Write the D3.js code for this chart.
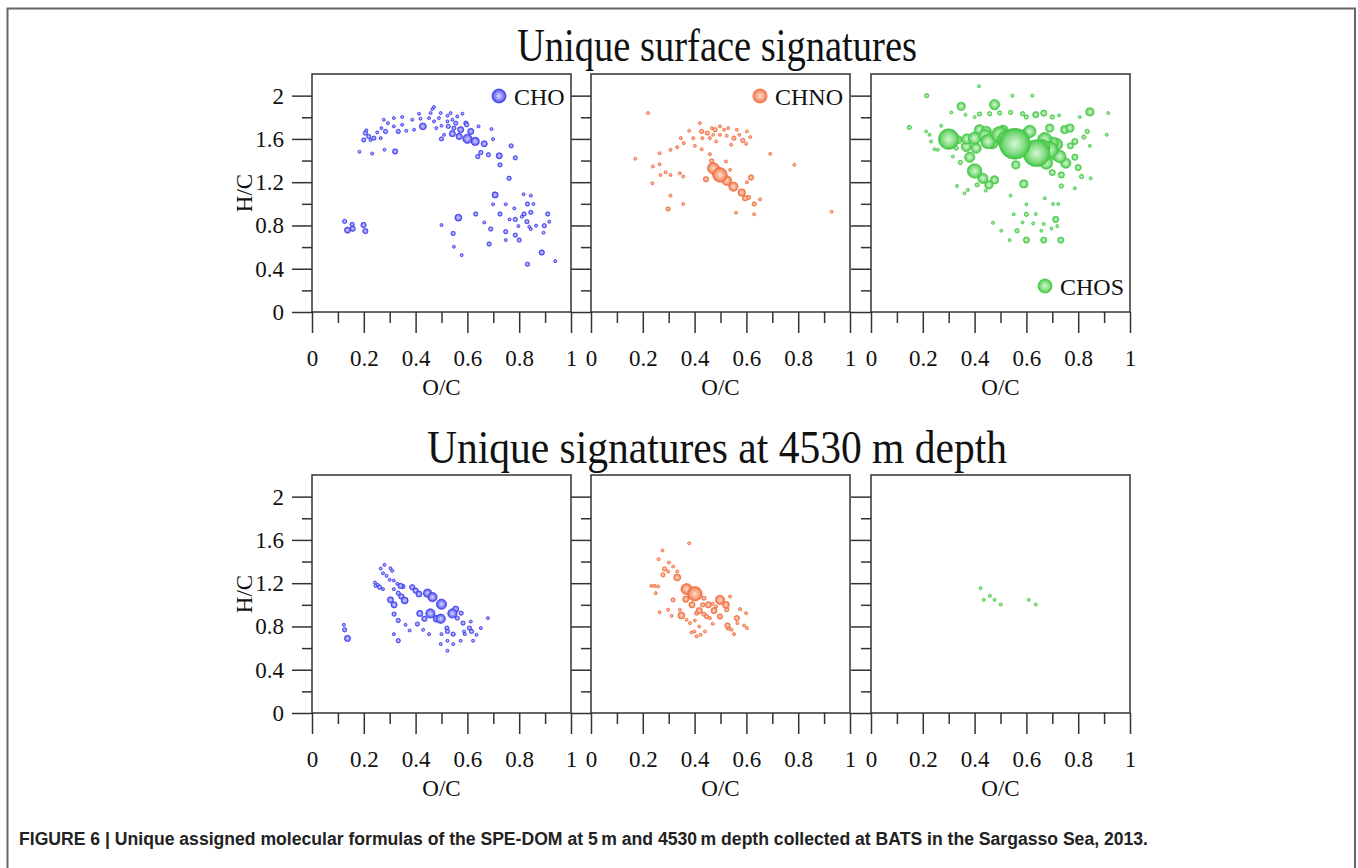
<!DOCTYPE html>
<html>
<head>
<meta charset="utf-8">
<script src="https://cdn.jsdelivr.net/npm/d3@7"></script>
<style>
  body { margin: 0; background: #fff; }
  svg { display: block; }
</style>
</head>
<body>
<div id="figure"></div>
<script>
// O/C, H/C, relative abundance (bubble size)
var choSurface = [
  [0.126,0.838,2],[0.137,0.757,4],[0.157,0.770,3],[0.155,0.81,2],[0.199,0.804,3],[0.206,0.748,3],
  [0.183,1.481,1],[0.232,1.465,1],[0.206,1.654,2],[0.21,1.68,1],[0.2,1.59,2],[0.219,1.623,2],[0.226,1.59,1],
  [0.239,1.607,2],[0.252,1.66,1],[0.265,1.607,1],[0.268,1.70,1],[0.277,1.777,1],[0.284,1.669,2],[0.293,1.746,1],
  [0.28,1.5,1],[0.321,1.484,3],[0.316,1.793,1],[0.316,1.716,1],[0.333,1.669,2],[0.348,1.802,1],[0.348,1.731,1],
  [0.364,1.675,1],[0.387,1.777,1],[0.394,1.685,1],[0.413,1.833,1],[0.419,1.787,1],[0.428,1.716,5],[0.452,1.793,1],
  [0.458,1.839,1],[0.465,1.876,1],[0.471,1.895,1],[0.471,1.762,1],[0.48,1.70,1],[0.49,1.793,1],[0.497,1.839,1],
  [0.5,1.722,1],[0.5,1.6,2],[0.51,1.638,1],[0.523,1.814,1],[0.523,1.762,1],[0.526,1.716,2],[0.535,1.839,1],
  [0.542,1.777,1],[0.542,1.648,4],[0.548,1.70,2],[0.555,1.746,2],[0.561,1.808,1],[0.568,1.623,4],[0.574,1.685,4],
  [0.581,1.833,1],[0.594,1.746,2],[0.597,1.731,2],[0.6,1.601,9],[0.613,1.669,4],[0.63,1.577,7],[0.643,1.716,1],
  [0.64,1.437,2],[0.652,1.474,2],[0.665,1.555,4],[0.681,1.453,2],[0.693,1.691,1],[0.699,1.598,1],[0.723,1.444,4],
  [0.726,1.36,2],[0.761,1.236,2],[0.769,1.536,2],[0.785,1.425,2],
  [0.707,1.082,4],[0.699,0.995,1],[0.726,0.906,2],[0.748,0.995,1],[0.781,0.958,1],[0.817,1.088,1],[0.845,1.076,1],
  [0.832,0.998,2],[0.855,0.998,1],[0.819,0.906,2],[0.845,0.921,2],[0.91,0.906,2],[0.632,0.906,2],[0.665,0.828,1],
  [0.69,0.767,2],[0.684,0.628,2],[0.748,0.742,2],[0.748,0.665,1],[0.763,0.856,1],[0.785,0.856,2],[0.797,0.794,1],
  [0.785,0.711,2],[0.8,0.665,2],[0.81,0.881,1],[0.83,0.835,2],[0.839,0.788,1],[0.845,0.767,1],[0.865,0.798,1],
  [0.897,0.798,2],[0.894,0.733,1],[0.916,0.835,1],[0.832,0.442,2],[0.887,0.55,3],[0.939,0.47,1],[0.565,0.872,5],
  [0.545,0.726,2],[0.548,0.603,1],[0.578,0.526,1],[0.5,0.804,1]
]

var chnoSurface = [
  [0.22,1.839,1],[0.171,1.416,1],[0.239,1.345,1],[0.237,1.19,1],[0.265,1.468,1],[0.265,1.366,1],[0.268,1.267,1],
  [0.288,1.292,1],[0.307,1.499,1],[0.307,1.267,1],[0.307,1.076,1],[0.298,0.952,2],[0.333,1.524,1],[0.343,1.283,1],
  [0.356,1.252,1],[0.356,0.998,1],[0.347,1.607,1],[0.358,1.561,1],[0.379,1.675,1],[0.395,1.607,1],[0.401,1.536,1],
  [0.42,1.746,1],[0.427,1.669,2],[0.43,1.607,1],[0.427,1.505,1],[0.449,1.654,2],[0.459,1.607,1],[0.466,1.70,1],
  [0.479,1.685,2],[0.472,1.638,1],[0.483,1.576,1],[0.498,1.716,1],[0.498,1.638,1],[0.514,1.685,1],[0.524,1.629,1],
  [0.53,1.70,1],[0.552,1.607,2],[0.563,1.685,1],[0.573,1.638,1],[0.586,1.586,2],[0.599,1.555,1],[0.602,1.669,1],
  [0.615,1.617,1],[0.541,1.546,1],[0.459,1.459,1],[0.466,1.397,2],[0.521,1.391,1],[0.444,1.227,3],[0.472,1.329,14],
  [0.485,1.30,12],[0.498,1.267,22],[0.524,1.215,10],[0.55,1.159,9],[0.582,1.104,6],[0.595,1.051,3],[0.608,1.06,2],
  [0.618,1.243,3],[0.602,1.2,1],[0.537,1.314,1],[0.63,0.998,2],[0.653,1.042,1],[0.63,0.903,1],[0.56,0.918,1],
  [0.692,1.462,1],[0.785,1.36,1],[0.929,0.927,1]
]

var chosSurface = [
  [0.3,1.598,44],[0.555,1.555,100],[0.639,1.468,75],[0.4,1.607,16],[0.4,1.304,22],[0.381,1.431,11],[0.432,1.236,11],
  [0.477,1.221,7],[0.455,1.175,7],[0.59,1.184,7],[0.348,1.901,7],[0.477,1.917,11],[0.845,1.849,7],[0.452,1.576,22],
  [0.497,1.638,28],[0.523,1.592,36],[0.419,1.685,11],[0.445,1.67,11],[0.468,1.565,16],[0.613,1.669,16],
  [0.671,1.592,22],[0.69,1.5,28],[0.716,1.55,16],[0.729,1.437,16],[0.677,1.376,16],[0.752,1.376,11],[0.69,1.7,7],
  [0.748,1.685,7],[0.768,1.7,7],[0.559,1.36,7],[0.7,1.289,4],[0.735,1.267,4],[0.368,1.53,11],[0.406,1.515,11],
  [0.335,1.592,7],[0.787,1.431,4],[0.8,1.335,4],[0.787,1.576,4],[0.77,1.536,4],[0.813,1.252,2],[0.845,1.536,1],
  [0.835,1.669,2],[0.822,1.617,2],[0.848,1.236,1],[0.787,1.144,1],[0.735,1.165,2],[0.916,1.839,1],[0.91,1.638,1],
  [0.148,1.706,2],[0.215,2.0,2],[0.417,2.087,1],[0.546,2.0,1],[0.623,2.0,1],[0.31,1.845,1],[0.365,1.824,1],
  [0.4,1.802,1],[0.419,1.83,2],[0.458,1.833,2],[0.497,1.839,2],[0.539,1.845,2],[0.585,1.833,2],[0.6,1.802,2],
  [0.636,1.824,4],[0.667,1.839,4],[0.7,1.802,2],[0.726,1.818,1],[0.806,1.802,1],[0.213,1.669,1],[0.226,1.638,1],
  [0.232,1.576,1],[0.245,1.505,1],[0.258,1.499,1],[0.271,1.722,1],[0.329,1.515,2],[0.316,1.437,1],[0.345,1.382,2],
  [0.332,1.165,1],[0.361,1.097,1],[0.374,1.128,1],[0.41,1.175,2],[0.443,1.122,1],[0.539,1.076,1],[0.6,0.995,1],
  [0.671,1.051,1],[0.703,0.998,1],[0.723,0.998,1],[0.551,0.903,1],[0.6,0.903,2],[0.636,0.906,1],[0.585,0.828,1],
  [0.626,0.819,1],[0.667,0.813,1],[0.713,0.856,4],[0.471,0.825,1],[0.503,0.751,1],[0.564,0.751,2],[0.6,0.665,4],
  [0.667,0.665,4],[0.733,0.665,4],[0.535,0.665,1],[0.658,0.751,1],[0.697,0.773,1],[0.719,0.794,1],
  [0.58,1.62,16],[0.66,1.52,28],[0.7,1.56,16],[0.62,1.42,16],[0.71,1.45,11],[0.37,1.6,11],[0.44,1.63,16],
  [0.51,1.68,11],[0.6,1.65,11]
]

var choDeep = [
  [0.123,0.815,1],[0.126,0.769,2],[0.137,0.689,4],[0.243,1.206,1],[0.254,1.185,1],[0.261,1.163,2],[0.274,1.145,1],
  [0.245,1.175,1],[0.265,1.335,1],[0.28,1.369,1],[0.274,1.292,1],[0.288,1.268,1],[0.303,1.338,1],[0.31,1.314,1],
  [0.3,1.231,1],[0.316,1.225,1],[0.316,1.145,1],[0.329,1.194,1],[0.333,1.108,2],[0.342,1.175,3],[0.351,1.169,2],
  [0.345,1.077,3],[0.358,1.04,5],[0.303,1.046,4],[0.317,1.0,4],[0.317,0.914,2],[0.333,0.855,2],[0.316,0.729,1],
  [0.333,0.668,2],[0.361,0.815,1],[0.377,0.763,1],[0.387,1.163,3],[0.4,1.132,3],[0.413,1.1,4],[0.446,1.108,7],
  [0.465,1.071,9],[0.5,1.006,11],[0.416,0.92,4],[0.434,0.871,3],[0.457,0.92,9],[0.481,0.871,5],[0.407,0.822,2],
  [0.429,0.769,1],[0.452,0.729,1],[0.497,0.871,9],[0.542,0.92,9],[0.555,0.96,4],[0.561,0.877,2],[0.576,0.923,2],
  [0.583,0.831,2],[0.521,0.785,2],[0.523,0.754,2],[0.5,0.729,1],[0.497,0.637,1],[0.523,0.668,1],[0.523,0.575,1],
  [0.545,0.729,2],[0.545,0.637,1],[0.574,0.668,1],[0.587,0.754,1],[0.59,0.729,1],[0.613,0.846,1],[0.608,0.785,2],
  [0.616,0.754,2],[0.622,0.668,1],[0.635,0.723,1],[0.652,0.785,1],[0.679,0.877,1]
]

var chnoDeep = [
  [0.379,1.569,1],[0.276,1.502,1],[0.261,1.422,1],[0.284,1.332,2],[0.301,1.391,1],[0.278,1.277,2],[0.298,1.308,1],
  [0.317,1.354,1],[0.333,1.252,5],[0.333,1.308,1],[0.233,1.175,1],[0.246,1.175,1],[0.259,1.17,1],[0.25,1.108,1],
  [0.317,1.046,2],[0.265,0.932,1],[0.298,0.954,1],[0.311,0.898,1],[0.349,0.901,5],[0.369,1.145,13],[0.401,1.102,22],
  [0.366,1.052,4],[0.39,1.0,4],[0.343,0.954,1],[0.369,0.862,1],[0.382,0.831,1],[0.401,0.855,1],[0.408,0.923,2],
  [0.418,0.947,4],[0.431,1.0,2],[0.436,1.062,2],[0.453,1.0,4],[0.436,0.914,2],[0.446,0.892,2],[0.459,0.877,1],
  [0.475,0.947,4],[0.47,1.009,1],[0.483,0.985,1],[0.498,1.046,9],[0.521,1.0,5],[0.524,0.954,2],[0.498,0.892,3],
  [0.47,0.825,1],[0.418,0.8,1],[0.399,0.754,1],[0.408,0.708,1],[0.423,0.723,1],[0.44,0.754,1],[0.388,0.745,1],
  [0.527,0.809,3],[0.53,0.785,2],[0.543,0.769,1],[0.552,0.729,1],[0.563,0.877,3],[0.576,0.96,1],[0.565,0.831,1],
  [0.599,0.923,1],[0.591,0.809,1],[0.602,0.785,1],[0.537,1.077,1]
]

var chosDeep = [
  [0.423,1.154,1],[0.435,1.046,1],[0.459,1.083,1],[0.477,1.046,1],[0.501,1.003,1],[0.609,1.046,1],[0.636,1.003,1]
]

var classes = ["CHO", "CHNO", "CHOS"]
var rowTitles = ["Unique surface signatures", "Unique signatures at 4530 m depth"]
var xTicks = [0, 0.2, 0.4, 0.6, 0.8, 1]
var xMinor = [0.1, 0.3, 0.5, 0.7, 0.9]
var yTicks = [0, 0.4, 0.8, 1.2, 1.6, 2]
var yMinor = [0.2, 0.6, 1.0, 1.4, 1.8]
var caption = "Unique assigned molecular formulas of the SPE-DOM at 5\u2009m and 4530\u2009m depth collected at BATS in the Sargasso Sea, 2013."

var colors = {CHO: "#3b3bf0", CHNO: "#f06a3a", CHOS: "#3fc63f"}
var light = {CHO: "#d6d6ff", CHNO: "#ffdccb", CHOS: "#d4f7d4"}

var W = 1358, H = 868
var panelX = [312, 591, 871], panelW = 259
var rowY = [74, 475], panelH = 238
var serif = "'Liberation Serif', 'Times New Roman', Times, serif"

var svg = d3.select("#figure").append("svg")
    .attr("width", W)
    .attr("height", H)

// outer frame
svg.append("path")
    .attr("d", "M7.5,868 V8.5 H1355 V868")
    .attr("fill", "none")
    .attr("stroke", "#666")
    .attr("stroke-width", 2)

// gradients for the shaded bubbles
var defs = svg.append("defs")
classes.forEach(function(c) {
  var gr = defs.append("radialGradient").attr("id", "grad" + c)
      .attr("cx", "50%").attr("cy", "50%").attr("r", "50%")
  gr.append("stop").attr("offset", "0%").attr("stop-color", light[c])
  gr.append("stop").attr("offset", "65%").attr("stop-color", d3.interpolateRgb(light[c], colors[c])(0.55))
  gr.append("stop").attr("offset", "100%").attr("stop-color", colors[c])
})

var x = d3.scaleLinear().domain([0, 1]).range([0, panelW])
var y = d3.scaleLinear().domain([0, 2.2]).range([panelH, 0])
var r = d3.scaleSqrt().domain([0, 100]).range([0, 15.5])

var fmt = function(d) { return String(+d.toFixed(1)) }

function drawPanel(row, col, data, cls, legend) {
  var g = svg.append("g")
      .attr("transform", "translate(" + panelX[col] + "," + rowY[row] + ")")

  g.append("rect")
      .attr("width", panelW).attr("height", panelH)
      .attr("fill", "#fff")
      .attr("stroke", "#333").attr("stroke-width", 1.5)

  // y axis, minor + major ticks
  var yMin = g.append("g").call(d3.axisLeft(y).tickValues(yMinor).tickSize(10).tickFormat(""))
  var yMaj = g.append("g").call(d3.axisLeft(y).tickValues(yTicks).tickSize(20).tickPadding(8)
      .tickFormat(col === 0 ? fmt : ""))
  // x axis
  var xMin = g.append("g").attr("transform", "translate(0," + panelH + ")")
      .call(d3.axisBottom(x).tickValues(xMinor).tickSize(11).tickFormat(""))
  var xMaj = g.append("g").attr("transform", "translate(0," + panelH + ")")
      .call(d3.axisBottom(x).tickValues(xTicks).tickSize(21).tickPadding(17).tickFormat(fmt))

  ;[yMin, yMaj, xMin, xMaj].forEach(function(a) {
    a.select(".domain").remove()
    a.selectAll("line").attr("stroke", "#333").attr("stroke-width", 1.5)
    a.selectAll("text").attr("font-family", serif).attr("font-size", 23).attr("fill", "#111")
  })

  g.append("text")
      .attr("x", panelW / 2)
      .attr("y", panelH + 83)
      .attr("text-anchor", "middle")
      .attr("font-family", serif).attr("font-size", 23).attr("fill", "#111")
      .text("O/C")

  if (col === 0) {
    g.append("text")
        .attr("transform", "translate(-60," + (panelH / 2) + ") rotate(-90)")
        .attr("text-anchor", "middle")
        .attr("font-family", serif).attr("font-size", 23).attr("fill", "#111")
        .text("H/C")
  }

  var pts = data.slice().sort(function(a, b) { return a[2] - b[2] })
  g.append("g").selectAll("circle")
    .data(pts)
    .enter()
    .append("circle")
      .attr("cx", function(d) { return x(d[0]) })
      .attr("cy", function(d) { return y(d[1]) })
      .attr("r", function(d) { return r(d[2]) })
      .attr("fill", "url(#grad" + cls + ")")
      .attr("stroke", colors[cls])
      .attr("stroke-width", 0.8)
      .attr("stroke-opacity", 0.85)

  if (legend) {
    var lg = g.append("g").attr("transform", "translate(" + legend[0] + "," + legend[1] + ")")
    lg.append("circle").attr("r", 7)
        .attr("fill", "url(#grad" + cls + ")")
        .attr("stroke", colors[cls]).attr("stroke-width", 0.8)
    lg.append("text").attr("x", 15).attr("y", 8.5)
        .attr("font-family", serif).attr("font-size", 24).attr("fill", "#111")
        .text(cls)
  }
}

drawPanel(0, 0, choSurface, "CHO", [187, 22])
drawPanel(0, 1, chnoSurface, "CHNO", [169, 22])
drawPanel(0, 2, chosSurface, "CHOS", [174, 212])
drawPanel(1, 0, choDeep, "CHO", null)
drawPanel(1, 1, chnoDeep, "CHNO", null)
drawPanel(1, 2, chosDeep, "CHOS", null)

// row titles
var titleY = [61, 463], titleW = [400, 580]
rowTitles.forEach(function(t, i) {
  svg.append("text")
      .attr("x", 717)
      .attr("y", titleY[i])
      .attr("text-anchor", "middle")
      .attr("font-family", serif)
      .attr("font-size", 46)
      .attr("fill", "#111")
      .attr("textLength", titleW[i])
      .attr("lengthAdjust", "spacingAndGlyphs")
      .text(t)
})

// caption
var cap = svg.append("text")
    .attr("x", 19)
    .attr("y", 845)
    .attr("font-family", "'Liberation Sans', Arial, Helvetica, sans-serif")
    .attr("font-size", 18)
    .attr("font-weight", "bold")
    .attr("fill", "#222")
    .attr("textLength", 1129)
    .attr("lengthAdjust", "spacingAndGlyphs")
cap.append("tspan").text("FIGURE 6 | ")
cap.append("tspan").text(caption)
</script>
</body>
</html>
